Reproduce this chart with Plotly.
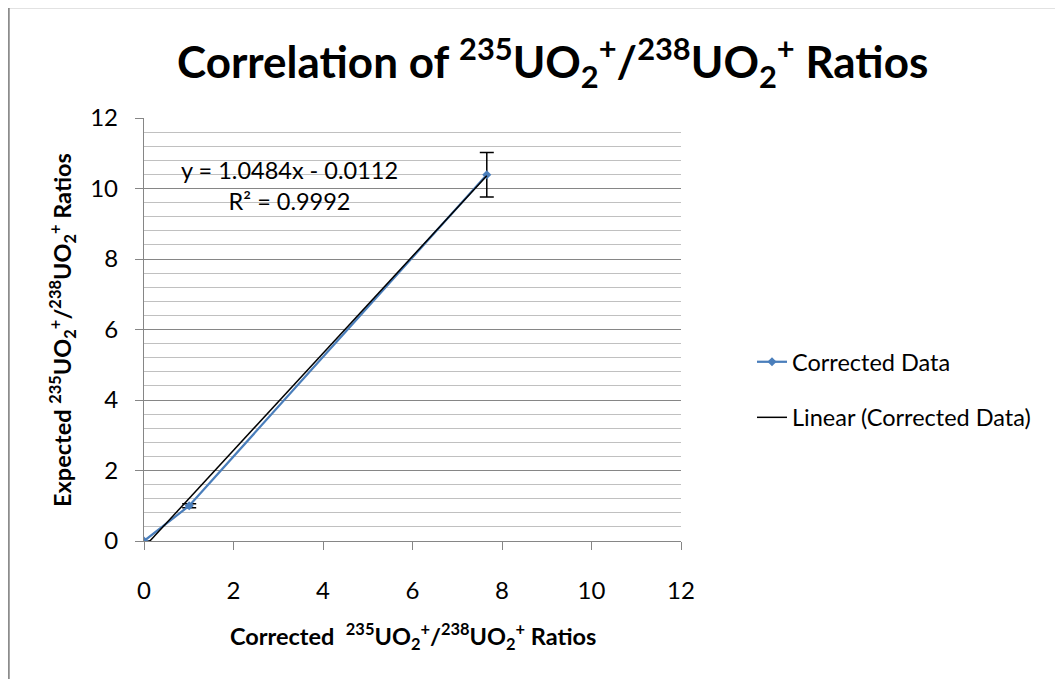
import numpy as np
import plotly.graph_objects as go

# ---- data ----
corrected_x = [0.0, 1.01, 7.66]
expected_y = [0.0, 1.0, 10.39]
y_err = [0.0, 0.06, 0.63]
x_ticks = [0, 2, 4, 6, 8, 10, 12]
y_ticks = [0, 2, 4, 6, 8, 10, 12]
series_name = "Corrected Data"
trend_name = "Linear (Corrected Data)"
equation_text = "y = 1.0484x - 0.0112<br>R² = 0.9992"

FONT = "Lato, Carlito, Calibri, 'Open Sans', sans-serif"
BLUE = "#4a7ebb"
GRID_MAJOR = "#868686"
GRID_MINOR = "#c0c0c0"
FS = 23.5
TFS = 24

slope, intercept = np.polyfit(corrected_x, expected_y, 1)
tx = np.array([min(corrected_x), max(corrected_x)])
ty = slope * tx + intercept

fig = go.Figure()
fig.add_trace(go.Scatter(
    x=corrected_x, y=expected_y, mode="lines+markers", name=series_name,
    line=dict(color=BLUE, width=2.25),
    marker=dict(symbol="diamond", size=7, color=BLUE),
    error_y=dict(type="data", array=y_err, visible=True, color="black",
                 thickness=1.5, width=7),
    legendgroup="a",
))
fig.add_trace(go.Scatter(
    x=tx, y=ty, mode="lines", name=trend_name,
    line=dict(color="black", width=1.5), legendgroup="b",
))

OFF = 8  # page body margin
W, H = 1063 - OFF, 679 - OFF
# plot area in page pixels
L, R, T, B = 144, 681, 118, 541
pw, ph = R - L, B - T
def px(x):
    return (x - L) / pw
def py(y):
    return (B - y) / ph

fig.update_layout(
    width=W, height=H,
    margin=dict(l=L - OFF, r=W - (R - OFF), t=T - OFF, b=H - (B - OFF)),
    paper_bgcolor="white", plot_bgcolor="white",
    font=dict(family=FONT, size=FS, color="black"),
    showlegend=True,
    legend=dict(x=px(752), y=py(390), xanchor="left", yanchor="middle",
                font=dict(size=FS), traceorder="grouped", tracegroupgap=22,
                bgcolor="rgba(0,0,0,0)"),
    xaxis=dict(range=[0, 12], tickvals=x_ticks, ticktext=[str(v) for v in x_ticks],
               showgrid=False, zeroline=False, showline=True, linecolor=GRID_MAJOR,
               linewidth=1.3, ticks="outside", ticklen=8, tickcolor=GRID_MAJOR,
               tickfont=dict(size=TFS), ticklabelstandoff=20, fixedrange=True),
    yaxis=dict(range=[0, 12], tickvals=y_ticks, ticktext=[str(v) for v in y_ticks],
               showgrid=True, gridcolor=GRID_MAJOR, gridwidth=1.3,
               zeroline=False, showline=True, linecolor=GRID_MAJOR, linewidth=1.3,
               ticks="outside", ticklen=8, tickcolor=GRID_MAJOR,
               tickfont=dict(size=TFS), ticklabelstandoff=12,
               minor=dict(dtick=0.4, showgrid=True, gridcolor=GRID_MINOR,
                          gridwidth=1, ticks=""),
               fixedrange=True),
)

# chart border
fig.add_shape(type="rect", xref="paper", yref="paper",
              x0=px(OFF + 0.5), x1=px(1080), y0=py(700), y1=py(OFF - 1),
              line=dict(color="#8c8c8c", width=2.5), fillcolor="rgba(0,0,0,0)",
              layer="below")

sup = lambda s: f"<sup>{s}</sup>"
sub = lambda s: f"<sub>{s}</sub>"
ratio = f"{sup('235')}UO{sub('2')}{sup('+')}/{sup('238')}UO{sub('2')}{sup('+')}"

fig.add_annotation(xref="paper", yref="paper", x=px(552), y=py(62),
                   text=f"<b>Correlation of {ratio} Ratios</b>", showarrow=False,
                   font=dict(size=44, family=FONT), xanchor="center", yanchor="middle")
fig.add_annotation(xref="paper", yref="paper", x=px(413), y=py(636),
                   text=f"<b>Corrected  {ratio} Ratios</b>", showarrow=False,
                   font=dict(size=23.5, family=FONT), xanchor="center", yanchor="middle")
fig.add_annotation(xref="paper", yref="paper", x=px(62), y=py(330),
                   text=f"<b>Expected {ratio} Ratios</b>", showarrow=False, textangle=-90,
                   font=dict(size=23.5, family=FONT), xanchor="center", yanchor="middle")
fig.add_annotation(xref="paper", yref="paper", x=px(289), y=py(185),
                   text=equation_text, showarrow=False, align="center",
                   font=dict(size=FS, family=FONT), xanchor="center", yanchor="middle")

fig.write_html("out.html")
